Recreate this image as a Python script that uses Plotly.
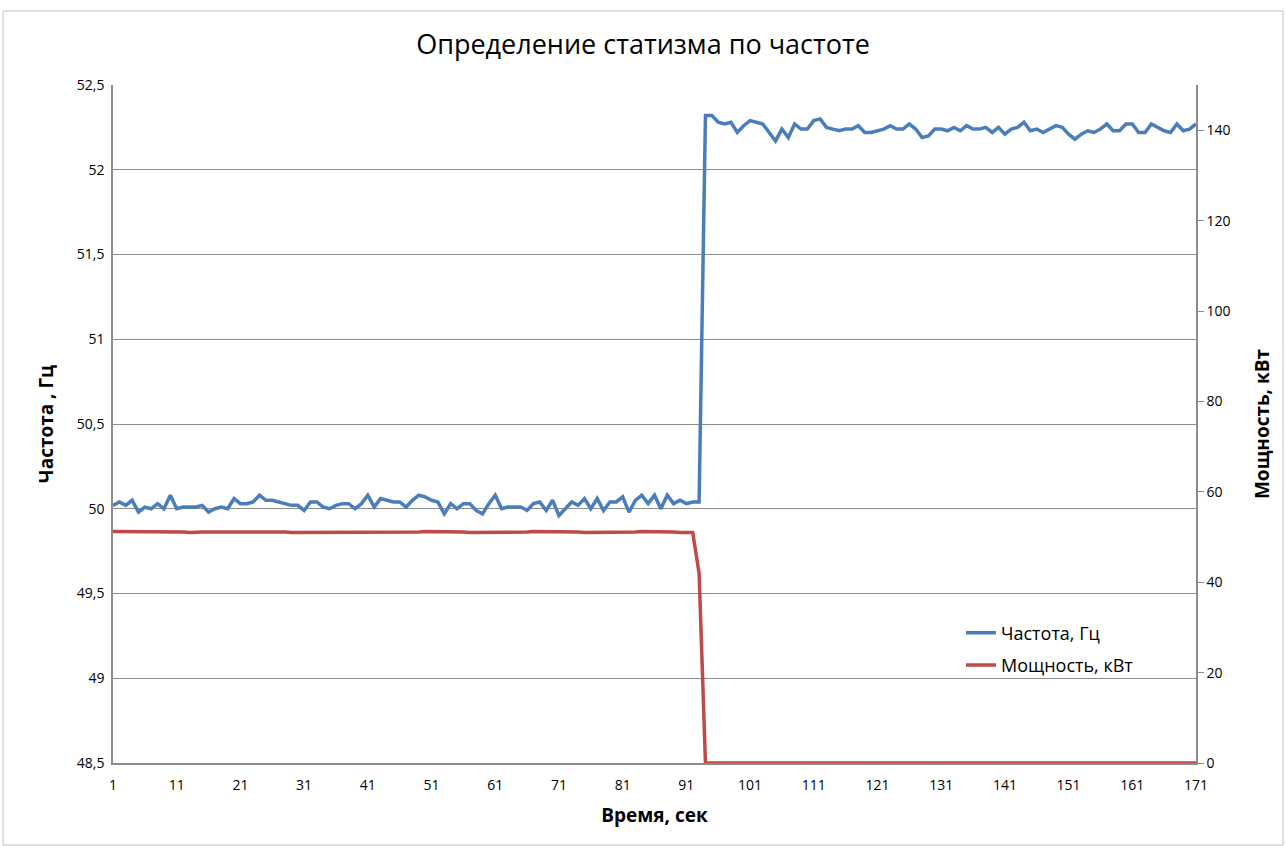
import plotly.graph_objects as go

time_sec = list(range(1, 172))

freq_hz = [
    50.02, 50.04, 50.02, 50.05, 49.98, 50.01, 50.00, 50.03, 50.00, 50.08,
    50.00, 50.01, 50.01, 50.01, 50.02, 49.98, 50.00, 50.01, 50.00, 50.06,
    50.03, 50.03, 50.04, 50.08, 50.05, 50.05, 50.04, 50.03, 50.02, 50.02,
    49.99, 50.04, 50.04, 50.01, 50.00, 50.02, 50.03, 50.03, 50.00, 50.03,
    50.08, 50.01, 50.06,
    50.05, 50.04, 50.04, 50.01, 50.05, 50.08, 50.07, 50.05, 50.04, 49.97,
    50.03, 50.00, 50.03, 50.03, 49.99, 49.97, 50.03, 50.08, 50.00, 50.01,
    50.01, 50.01, 49.99, 50.03, 50.04, 49.99, 50.05, 49.96, 50.00, 50.04,
    50.02, 50.06, 50.00, 50.06, 49.99, 50.04, 50.04, 50.07, 49.98, 50.05,
    50.08, 50.03, 50.08, 50.00, 50.08, 50.03, 50.05, 50.03, 50.04, 50.04,
    52.32, 52.32, 52.28, 52.27, 52.28, 52.22, 52.26, 52.29, 52.28, 52.27,
    52.22, 52.17, 52.24, 52.19, 52.27, 52.24, 52.24, 52.29, 52.30, 52.25,
    52.24, 52.23, 52.24, 52.24, 52.26, 52.22, 52.22, 52.23, 52.24, 52.26,
    52.24, 52.24, 52.27, 52.24, 52.19, 52.20, 52.24, 52.24, 52.23, 52.25,
    52.23, 52.26, 52.24, 52.24, 52.25, 52.22, 52.25, 52.21, 52.24, 52.25,
    52.28, 52.23, 52.24, 52.22, 52.24, 52.26, 52.25, 52.21, 52.18, 52.21,
    52.23, 52.22, 52.24, 52.27, 52.23, 52.23, 52.27, 52.27, 52.22, 52.22,
    52.27, 52.25, 52.23, 52.22, 52.27, 52.23, 52.24, 52.27,
]

power_kw = [
    51.2, 51.2, 51.2, 51.2, 51.2, 51.2, 51.2, 51.2, 51.2, 51.1,
    51.1, 51.1, 51.0, 51.1, 51.1, 51.1, 51.1, 51.1, 51.2, 51.1,
    51.2, 51.2, 51.2, 51.2, 51.2, 51.2, 51.1, 51.1, 51.0, 51.0,
    51.1, 51.0, 51.1, 51.1, 51.1, 51.1, 51.1, 51.1, 51.1, 51.1,
    51.1, 51.0, 51.0, 51.0, 51.0, 51.0, 51.1, 51.1, 51.1, 51.2,
    51.2, 51.2, 51.1, 51.1, 51.1, 51.1, 51.0, 51.0, 51.0, 51.0,
    51.0, 51.0, 51.0, 51.1, 51.1, 51.1, 51.2, 51.2, 51.2, 51.2,
    51.2, 51.1, 51.1, 51.1, 51.0, 51.0, 51.0, 51.0, 51.0, 51.0,
    51.1, 51.1, 51.1, 51.2, 51.2, 51.2, 51.1, 51.1, 51.1, 51.0,
    51.0, 51.0, 42.0,
] + [0.0] * 78

x_ticks = list(range(1, 172, 10))

title_text = "Определение статизма по частоте"
x_title = "Время, сек"
y_left_title = "Частота , Гц"
y_right_title = "Мощность, кВт"
name_freq = "Частота, Гц"
name_power = "Мощность, кВт"

FONT = "Open Sans"
BLUE = "#4A7EBB"
RED = "#BE4B48"
GRID = "#8C8C8C"

fig = go.Figure()
fig.add_trace(go.Scatter(x=time_sec, y=freq_hz, name=name_freq, mode="lines", legendgroup="f",
                         line=dict(color=BLUE, width=3.5), yaxis="y"))
fig.add_trace(go.Scatter(x=time_sec, y=power_kw, name=name_power, mode="lines", legendgroup="p",
                         line=dict(color=RED, width=3.5), yaxis="y2"))

fig.update_layout(
    width=1286, height=846,
    margin=dict(l=113, r=90, t=85, b=83),
    paper_bgcolor="white", plot_bgcolor="white",
    separators=", ",
    font=dict(family=FONT, color="#000000", size=13),
    title=dict(text=title_text, x=0.5, xanchor="center", y=1 - 45 / 846, yanchor="middle",
               font=dict(family=FONT, size=27, color="#000000")),
    xaxis=dict(range=[1, 171], tickvals=x_ticks, ticktext=[str(v) for v in x_ticks],
               showgrid=False, zeroline=False, showline=True, linecolor=GRID, linewidth=1.5,
               ticks="", tickfont=dict(size=14), ticklabelstandoff=8,
               title=dict(text=x_title, font=dict(size=19, family=FONT, weight="bold"), standoff=16)),
    yaxis=dict(range=[48.5, 52.5], dtick=0.5, tick0=48.5, showgrid=True, gridcolor=GRID, gridwidth=1.2,
               zeroline=False, showline=True, linecolor=GRID, linewidth=1.5, ticks="",
               tickfont=dict(size=14), ticklabelstandoff=4,
               title=dict(text=y_left_title, font=dict(size=19, family=FONT, weight="bold"), standoff=18)),
    yaxis2=dict(range=[0, 150], tickvals=[0, 20, 40, 60, 80, 100, 120, 140], overlaying="y", side="right",
                showgrid=False, zeroline=False, showline=True, linecolor=GRID, linewidth=1.5,
                ticks="outside", ticklen=6, tickcolor=GRID, tickfont=dict(size=14),
                title=dict(text=y_right_title, font=dict(size=19, family=FONT, weight="bold"), standoff=26)),
    legend=dict(x=0.783, y=0.219, xanchor="left", yanchor="top", bgcolor="rgba(0,0,0,0)",
                font=dict(size=18, family=FONT), tracegroupgap=6),
    showlegend=True,
)

fig.add_shape(type="rect", xref="paper", yref="paper",
              x0=(3 - 113) / 1083, x1=(1283 - 113) / 1083,
              y0=(763 - 845) / 678, y1=(763 - 11) / 678,
              line=dict(color="#BFBFBF", width=1), layer="below")

fig.write_html("out.html", config={"displayModeBar": False},
               post_script="document.body.style.margin='0';")
